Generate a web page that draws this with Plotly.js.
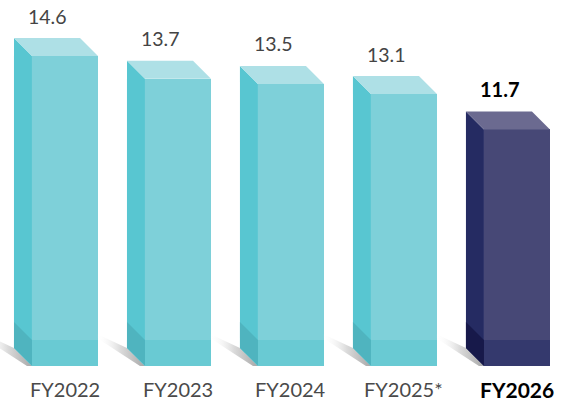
<!DOCTYPE html>
<html>
<head>
<meta charset="utf-8">
<script src="https://cdn.plot.ly/plotly-3.0.1.min.js"></script>
<style>html,body{margin:0;padding:0;background:#fff;}#chart{width:573px;height:403px;}</style>
</head>
<body>
<div id="chart"></div>
<script>
// ---- data ----
const categories = ['FY2022', 'FY2023', 'FY2024', 'FY2025*', 'FY2026'];
const values = [14.6, 13.7, 13.5, 13.1, 11.7];
const valueLabels = ['14.6', '13.7', '13.5', '13.1', '11.7'];
const highlighted = [false, false, false, false, true];

// ---- styles ----
const W = 573, H = 403, MB = 37;
const PH = H - MB;               // plot height in px
const xRange = [-0.575, 4.496];
const yRange = [2.35, 2.35 + PH / 25.3];
const ux = (xRange[1] - xRange[0]) / W;   // data units per px (x)
const uy = (yRange[1] - yRange[0]) / PH;  // data units per px (y)
const barW = 66 * ux;
const DX = 18 * ux, DY = 18 * uy, BAND = 26 * uy;

const pal = {
  teal: {front: '#7ed0d9', top: '#aee0e6', side: '#58c6d1', bandF: '#69cad3', bandS: '#4fb4bf'},
  navy: {front: '#474876', top: '#6b6a90', side: '#252b62', bandF: '#34396d', bandS: '#17194a'}
};

const traces = [];
// front faces (data-driven bars)
traces.push({
  type: 'bar', x: categories.map((c, i) => i), y: values,
  width: barW,
  marker: {color: highlighted.map(h => h ? pal.navy.front : pal.teal.front), line: {width: 0}},
  hoverinfo: 'skip', showlegend: false
});

function poly(xs, ys, color, extra) {
  return Object.assign({
    type: 'scatter', mode: 'lines', x: xs.concat([xs[0]]), y: ys.concat([ys[0]]),
    fill: 'toself', fillcolor: color, line: {width: 0, color: color},
    hoverinfo: 'skip', showlegend: false
  }, extra || {});
}

const yB = yRange[0];
values.forEach((v, i) => {
  const p = highlighted[i] ? pal.navy : pal.teal;
  const xL = i - barW / 2, xR = i + barW / 2;
  // ground shadow
  traces.push(poly(
    [xL - 48 * ux, xL - 18 * ux, xL, xL - 5 * ux, xL - 25 * ux, xL - 48 * ux],
    [yB + 32 * uy, yB + 18 * uy, yB, yB, yB + 13 * uy, yB + 28 * uy],
    '#cccccc',
    {fillgradient: {type: 'horizontal', colorscale: [[0, 'rgba(255,255,255,0)'], [0.5, '#dadada'], [1, '#a8a8a8']]}}
  ));
  // side face
  traces.push(poly([xL, xL, xL - DX, xL - DX], [yB, v, v + DY, yB + DY], p.side));
  // top face
  traces.push(poly([xL, xR, xR - DX, xL - DX], [v, v, v + DY, v + DY], p.top));
  // bottom bands
  traces.push(poly([xL, xR, xR, xL], [yB, yB, yB + BAND, yB + BAND], p.bandF));
  traces.push(poly([xL, xL, xL - DX, xL - DX], [yB, yB + BAND, yB + BAND + DY, yB + DY], p.bandS));
});

const annotations = [];
values.forEach((v, i) => {
  const hl = highlighted[i];
  annotations.push({
    x: i, y: v, xref: 'x', yref: 'y', text: hl ? '<b>' + valueLabels[i] + '</b>' : valueLabels[i],
    showarrow: false, xanchor: 'center', yanchor: 'middle', xshift: -17, yshift: 40,
    font: {family: 'Lato, sans-serif', size: hl ? 20 : 19.5, color: hl ? '#000000' : '#444444'}
  });
  annotations.push({
    x: i, y: 0, xref: 'x', yref: 'paper', text: hl ? '<b>' + categories[i] + '</b>' : categories[i],
    showarrow: false, xanchor: 'center', yanchor: 'middle', yshift: -23,
    font: {family: 'Lato, sans-serif', size: hl ? 21 : 20, color: hl ? '#000000' : '#4a4a4a'}
  });
});

const layout = {
  width: W, height: H,
  margin: {l: 0, r: 0, t: 0, b: MB, pad: 0},
  paper_bgcolor: '#ffffff', plot_bgcolor: '#ffffff',
  xaxis: {range: xRange, visible: false, fixedrange: true},
  yaxis: {range: yRange, visible: false, fixedrange: true},
  showlegend: false, bargap: 0,
  annotations: annotations
};

Plotly.newPlot('chart', traces, layout, {staticPlot: true, displayModeBar: false});
</script>
</body>
</html>
